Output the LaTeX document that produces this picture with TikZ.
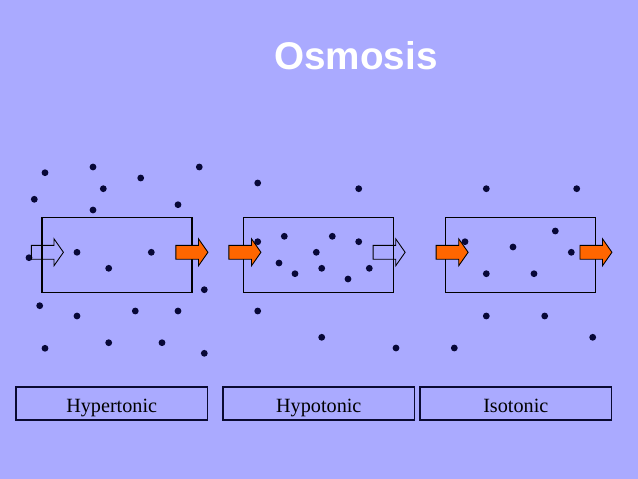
\documentclass[tikz,border=0pt]{standalone}
\usepackage{fontspec}
\setmainfont{Liberation Serif}
\newfontfamily\titlefont{Liberation Sans}
\usetikzlibrary{shapes.arrows}
\definecolor{slidebg}{RGB}{170,170,255}
\definecolor{solute}{RGB}{8,8,56}
\definecolor{flow}{RGB}{255,102,0}
\definecolor{framec}{RGB}{10,10,50}

\begin{document}
\begin{tikzpicture}[x=0.02cm, y=-0.02cm,
		cell/.style={draw=black, line width=0.6pt, minimum width=3cm, minimum height=1.5cm, inner sep=0pt},
		namebox/.style={draw=framec, line width=1pt, minimum width=3.83cm, minimum height=0.66cm, inner sep=0pt, text height=12.3pt, text depth=2.5pt, font=\fontsize{11.5}{13}\selectfont},
		water/.style={single arrow, minimum height=0.64cm, text height=0.13cm, text depth=0.13cm, single arrow head extend=0.13cm, single arrow tip angle=110, inner sep=0pt, line width=0.5pt},
		inflow/.style={water, draw=black, fill=flow},
		outflow/.style={water, draw=black},
		dot/.style={fill=solute}]
		% Hintergrund
		\fill[slidebg] (0,0) rectangle (638,479);
		\useasboundingbox (0,0) rectangle (638,479);
		% Titel
		\node[text=white, anchor=base, font=\titlefont\bfseries\fontsize{22}{24}\selectfont] (title) at (356,70) {Osmosis};
		% Zellen
		\node[cell] (hyper) at (117,254.8) {};
		\node[cell] (hypo) at (318.8,254.8) {};
		\node[cell] (iso) at (520.8,254.8) {};
		% Teilchen
		\foreach \p in {(45,172.7),(93,167),(199.3,167),(140.7,178),(103.3,188.7),(34.3,199.3),(178,204.7),(93,210),
			(29,257.7),(77,252.3),(151.3,252.3),(108.7,268.3),(204.3,289.7),(39.7,305.7),(77,316),(135.3,311),
			(178,311),(108.7,342.7),(162,342.7),(45,348.3),(204.3,353.3)}
			\fill[dot] \p circle (3.4);
		\foreach \p in {(257.7,183),(358.7,188.7),(257.7,241.7),(284.3,236.3),(332.3,236.3),(358.7,241.7),(316.3,252.3),
			(279,263),(321.7,268.3),(295,273.7),(348,279),(369.3,268.3),(257.7,311),(321.7,337.3),(396,348)}
			\fill[dot] \p circle (3.4);
		\foreach \p in {(486.3,188.7),(576.7,188.7),(555.3,231),(465,241.7),(513,247),(571.3,252.3),(486.3,273.7),
			(534,273.7),(486.3,316),(544.7,316),(592.7,337.3),(454.3,348)}
			\fill[dot] \p circle (3.4);
		% Pfeile
		\node[outflow] (hyperin) at (45,252.3) {};
		\node[inflow] (hyperout) at (189.5,252.3) {};
		\node[inflow] (hypoin) at (242.5,252.3) {};
		\node[outflow] (hypoout) at (386.7,252.3) {};
		\node[inflow] (isoin) at (449.7,252.3) {};
		\node[inflow] (isoout) at (593.5,252.3) {};
		% Beschriftung
		\node[namebox] (hypername) at (111.7,403.7) {Hypertonic};
		\node[namebox] (hyponame) at (318.8,403.7) {Hypotonic};
		\node[namebox] (isoname) at (515.8,403.7) {Isotonic};
	\end{tikzpicture}
\end{document}
